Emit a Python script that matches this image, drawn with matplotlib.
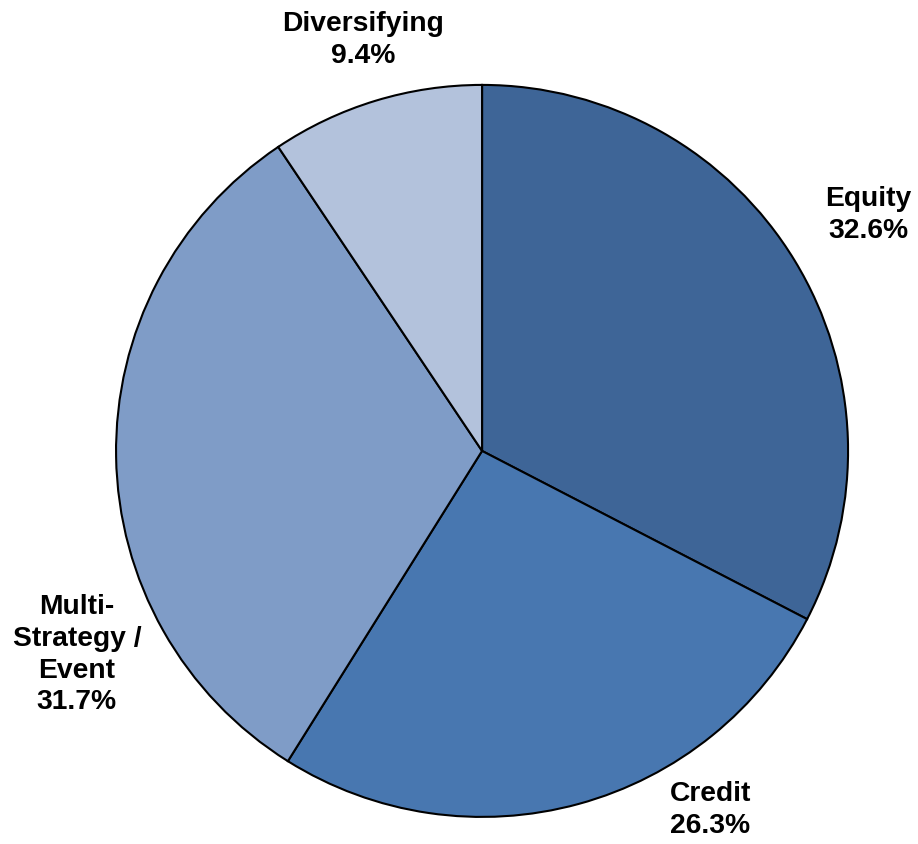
import matplotlib
matplotlib.use("Agg")
import matplotlib.pyplot as plt

# allocation shares, clockwise from 12 o'clock
categories = ["Equity", "Credit", "Multi-\nStrategy /\nEvent", "Diversifying"]
shares = [32.6, 26.3, 31.7, 9.4]
colors = ["#3E6597", "#4877B0", "#7F9CC7", "#B3C2DC"]

# label spots in pie-radius units (centre = 0,0)
label_pos = [(1.055, 0.645), (0.623, -0.981), (-1.107, -0.557), (-0.325, 1.123)]

plt.rcParams["font.family"] = ["Liberation Sans", "DejaVu Sans"]

fig = plt.figure(figsize=(9.18, 8.44), dpi=100)
ax = fig.add_axes([0, 0, 1, 1])
ax.pie(shares, colors=colors, startangle=90, counterclock=False,
       wedgeprops=dict(edgecolor="black", linewidth=1.5))

for name, val, (x, y) in zip(categories, shares, label_pos):
    ax.text(x, y, f"{name}\n{val:.1f}%", ha="center", va="center",
            fontsize=20.3, fontweight="bold", linespacing=1.28)

ax.set_xlim(-1.317, 1.191)
ax.set_ylim(-1.074, 1.232)
ax.axis("off")
fig.savefig("out.png", dpi=100)
